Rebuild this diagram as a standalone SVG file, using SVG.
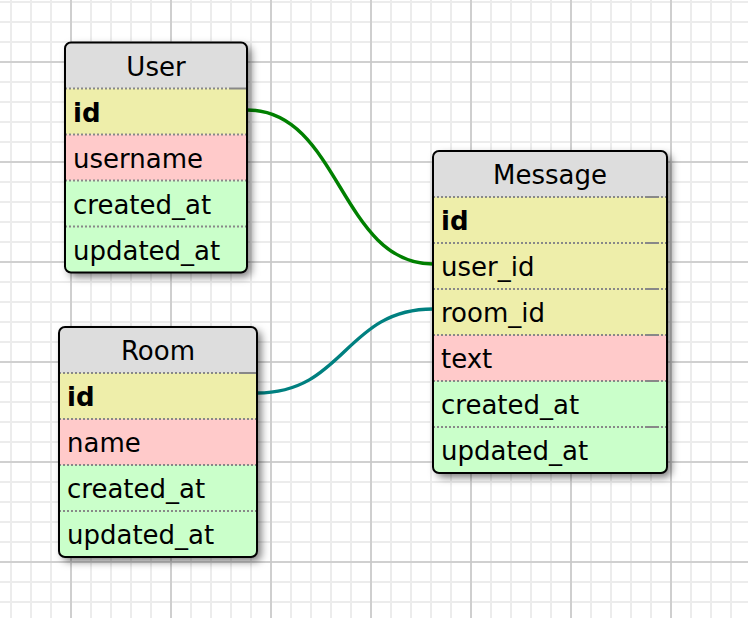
<svg xmlns="http://www.w3.org/2000/svg" width="748" height="618" viewBox="0 0 748 618">
<style>
text{font-family:"DejaVu Sans","Verdana",sans-serif;font-size:26px;fill:#000}
.title{text-anchor:middle}
.b{font-weight:bold}
.hd{fill:#dddddd}
.k{fill:#eeeeaa}
.r{fill:#ffcaca}
.g{fill:#caffca}
.sep{stroke:#888;stroke-width:2;stroke-dasharray:2 2;fill:none}
.sol{stroke:#888;stroke-width:2;fill:none}
.frame{fill:none;stroke:#000;stroke-width:2}
.base{fill:#fff;filter:url(#sh)}
.link{fill:none;stroke-width:3.4}
</style>
<defs>
<pattern id="minor" patternUnits="userSpaceOnUse" x="1" y="-8" width="20" height="20">
<path d="M10 0V20M0 10H20" stroke="#ececec" stroke-width="2" fill="none"/>
</pattern>
<pattern id="major" patternUnits="userSpaceOnUse" x="21" y="12" width="100" height="100">
<path d="M50 0V100M0 50H100" stroke="#c8c8c8" stroke-width="1.6" fill="none"/>
</pattern>
<filter id="sh" x="-20%" y="-20%" width="150%" height="150%">
<feDropShadow dx="4" dy="4" stdDeviation="4" flood-color="#000" flood-opacity="0.55"/>
</filter>
<clipPath id="cU"><rect x="0" y="0" width="182" height="230" rx="6"/></clipPath>
<clipPath id="cM"><rect x="0" y="0" width="234" height="322" rx="6"/></clipPath>
<clipPath id="cR"><rect x="0" y="0" width="198" height="230" rx="6"/></clipPath>
</defs>
<rect width="748" height="618" fill="#fff"/>
<rect width="748" height="618" fill="url(#minor)"/>
<rect width="748" height="618" fill="url(#major)"/>

<g id="connectors">
<path class="link" stroke="#008000" d="M247 110C340 110 340 264 433 264"/>
<path class="link" stroke="#008080" d="M257 393C345 393 345 309 433 309"/>
</g>

<g id="User" transform="translate(65,42.5)">
<rect class="base" width="182" height="230" rx="6"/>
<g clip-path="url(#cU)">
<rect class="hd" width="182" height="46"/>
<rect class="k" y="46" width="182" height="46"/>
<rect class="r" y="92" width="182" height="46"/>
<rect class="g" y="138" width="182" height="92"/>
</g>
<path class="sep" d="M0 46H166M0 92H182M0 138H182M0 184H182"/>
<path class="sol" d="M166 46H182"/>
<text class="title" x="91" y="33">User</text>
<text class="b" x="8" y="79">id</text>
<text x="8" y="125">username</text>
<text x="8" y="171">created_at</text>
<text x="8" y="217">updated_at</text>
<rect class="frame" width="182" height="230" rx="6"/>
</g>

<g id="Message" transform="translate(433,151)">
<rect class="base" width="234" height="322" rx="6"/>
<g clip-path="url(#cM)">
<rect class="hd" width="234" height="46"/>
<rect class="k" y="46" width="234" height="138"/>
<rect class="r" y="184" width="234" height="46"/>
<rect class="g" y="230" width="234" height="92"/>
</g>
<path class="sep" d="M0 46H234M0 92H234M0 138H234M0 184H234M0 230H234M0 276H234"/>
<path class="sol" d="M214 46H224M214 92H224M214 138H224M214 184H224M214 230H224M214 276H224"/>
<text class="title" x="117" y="33">Message</text>
<text class="b" x="8" y="79">id</text>
<text x="8" y="125">user_id</text>
<text x="8" y="171">room_id</text>
<text x="8" y="217">text</text>
<text x="8" y="263">created_at</text>
<text x="8" y="309">updated_at</text>
<rect class="frame" width="234" height="322" rx="6"/>
</g>

<g id="Room" transform="translate(59,327)">
<rect class="base" width="198" height="230" rx="6"/>
<g clip-path="url(#cR)">
<rect class="hd" width="198" height="46"/>
<rect class="k" y="46" width="198" height="46"/>
<rect class="r" y="92" width="198" height="46"/>
<rect class="g" y="138" width="198" height="92"/>
</g>
<path class="sep" d="M0 46H181M0 92H198M0 138H198M0 184H198"/>
<path class="sol" d="M181 46H198"/>
<text class="title" x="99" y="33">Room</text>
<text class="b" x="8" y="79">id</text>
<text x="8" y="125">name</text>
<text x="8" y="171">created_at</text>
<text x="8" y="217">updated_at</text>
<rect class="frame" width="198" height="230" rx="6"/>
</g>
</svg>
